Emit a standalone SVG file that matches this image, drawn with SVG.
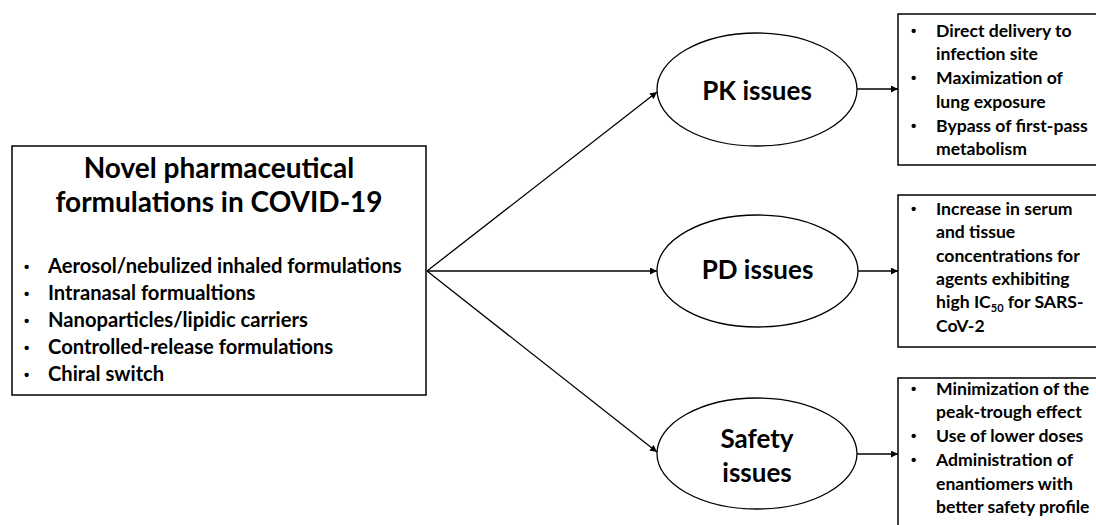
<svg xmlns="http://www.w3.org/2000/svg" width="1096" height="525" viewBox="0 0 1096 525">
<style>
text{font-family:Lato,"Open Sans","Liberation Sans",sans-serif;font-weight:700;fill:#000}
text.b{font-family:"Liberation Sans",Arial,sans-serif;font-size:15px}
.box{fill:#fff;stroke:#000;stroke-width:1.5}
.ell{fill:#fff;stroke:#000;stroke-width:1.3}
.con{stroke:#000;stroke-width:1.3;fill:none;marker-end:url(#ah)}
.title{font-size:28px;text-anchor:middle}
.lb{font-size:20.2px}
.el{font-size:26px;text-anchor:middle}
.rb{font-size:17.6px}
</style>
<defs>
<marker id="ah" viewBox="0 0 10 10" refX="10" refY="5" markerWidth="7" markerHeight="7" markerUnits="userSpaceOnUse" orient="auto">
<path d="M0,0 L10,5 L0,10 z" fill="#000"/>
</marker>
</defs>
<g id="connectors">
<line class="con" x1="427" y1="271" x2="657" y2="92"/>
<line class="con" x1="427" y1="271" x2="657" y2="271"/>
<line class="con" x1="427" y1="271" x2="657" y2="452"/>
<line class="con" x1="857" y1="89" x2="898" y2="89"/>
<line class="con" x1="858" y1="271" x2="898" y2="271"/>
<line class="con" x1="857" y1="454" x2="898" y2="454"/>
</g>
<g id="main">
<rect class="box" x="12" y="146" width="414" height="249"/>
<text class="title" x="219" y="178">Novel pharmaceutical</text>
<text class="title" x="219" y="212">formulations in COVID-19</text>
<g class="lb">
<text class="b" x="24" y="272">•</text><text x="48" y="273">Aerosol/nebulized inhaled formulations</text>
<text class="b" x="24" y="299">•</text><text x="48" y="300">Intranasal formualtions</text>
<text class="b" x="24" y="326">•</text><text x="48" y="327">Nanoparticles/lipidic carriers</text>
<text class="b" x="24" y="353">•</text><text x="48" y="354">Controlled-release formulations</text>
<text class="b" x="24" y="380">•</text><text x="48" y="381">Chiral switch</text>
</g>
</g>
<g id="pk">
<ellipse class="ell" cx="757" cy="89.5" rx="100" ry="56.5"/>
<text class="el" x="757" y="100">PK issues</text>
</g>
<g id="pd">
<ellipse class="ell" cx="757.5" cy="271" rx="100.5" ry="56"/>
<text class="el" x="757.5" y="279">PD issues</text>
</g>
<g id="safety">
<ellipse class="ell" cx="757" cy="453.5" rx="100" ry="55.5"/>
<text class="el" x="757" y="448">Safety</text>
<text class="el" x="757" y="482">issues</text>
</g>
<g id="pk-box">
<rect class="box" x="898" y="14" width="210" height="151"/>
<g class="rb">
<text class="b" x="911" y="36">•</text><text x="936" y="37">Direct delivery to</text>
<text x="936" y="60">infection site</text>
<text class="b" x="911" y="83">•</text><text x="936" y="84">Maximization of</text>
<text x="936" y="108">lung exposure</text>
<text class="b" x="911" y="131">•</text><text x="936" y="132">Bypass of first-pass</text>
<text x="936" y="155">metabolism</text>
</g>
</g>
<g id="pd-box">
<rect class="box" x="898" y="195" width="210" height="152"/>
<g class="rb">
<text class="b" x="911" y="214">•</text><text x="936" y="215">Increase in serum</text>
<text x="936" y="238">and tissue</text>
<text x="936" y="262">concentrations for</text>
<text x="936" y="285">agents exhibiting</text>
<text x="936" y="308">high IC<tspan font-size="11px" dy="4">50</tspan><tspan dy="-4"> for SARS-</tspan></text>
<text x="936" y="332">CoV-2</text>
</g>
</g>
<g id="safety-box">
<rect class="box" x="898" y="378" width="210" height="160"/>
<g class="rb">
<text class="b" x="911" y="394">•</text><text x="936" y="395">Minimization of the</text>
<text x="936" y="418">peak-trough effect</text>
<text class="b" x="911" y="441">•</text><text x="936" y="442">Use of lower doses</text>
<text class="b" x="911" y="465">•</text><text x="936" y="466">Administration of</text>
<text x="936" y="490">enantiomers with</text>
<text x="936" y="513">better safety profile</text>
</g>
</g>
</svg>
